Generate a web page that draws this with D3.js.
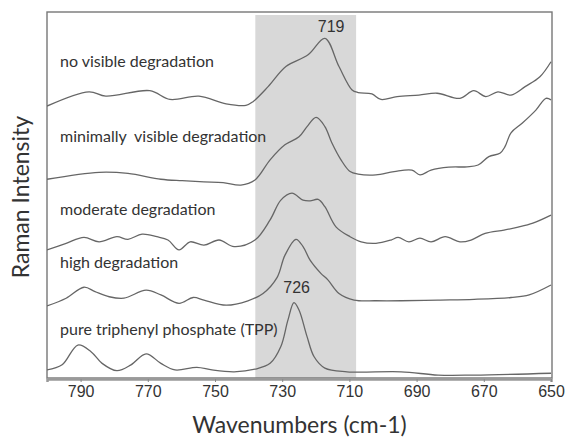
<!DOCTYPE html>
<html>
<head>
<meta charset="utf-8">
<script src="https://cdn.jsdelivr.net/npm/d3@7"></script>
<style>
  body { margin: 0; background: #fff; }
  text { fill: #333; }
  .lbl { font-family: Lato, "Open Sans", sans-serif; font-size: 16px; white-space: pre; }
  .tick text, .peak { font-family: "Liberation Sans", Arial, sans-serif; font-size: 16px; }
  .title { font-family: Lato, "Open Sans", sans-serif; font-size: 23px; }
</style>
</head>
<body>
<script>
// wavenumber (cm-1) / stacked intensity pairs
var noDeg = [
  [800, 74.3], [787.5, 78.2], [782.5, 77.0], [769.4, 78.5], [763.4, 76.1], [754.8, 77.0],
  [746.7, 74.9], [740.8, 74.5], [738.7, 75.5], [734.2, 79.6], [728.9, 85.1], [722.3, 88.3],
  [717.3, 92.8], [713.1, 85.1], [709.2, 78.7], [707.4, 78.0], [703.3, 77.6], [700.6, 76.1],
  [695.8, 76.9], [689.3, 77.3], [683.9, 77.8], [677.1, 76.4], [673.0, 78.5], [669.4, 76.9],
  [665.8, 78.2], [661.9, 77.3], [657.7, 79.6], [653.3, 82.3], [650, 86.4]
];
var minDeg = [
  [800, 54.3], [784.5, 56.2], [775.9, 55.9], [766.1, 54.3], [759.8, 53.9], [753.3, 53.6],
  [747.6, 53.4], [742.3, 52.7], [738.1, 54.1], [733.6, 59.6], [729.2, 63.7], [725.0, 65.9],
  [722.6, 68.7], [719.9, 71.2], [717.3, 68.7], [715.2, 64.2], [712.5, 59.6], [709.8, 56.4],
  [707.4, 55.7], [702.1, 55.5], [696.7, 56.4], [691.4, 56.8], [689.0, 55.5], [685.7, 56.8],
  [680.4, 57.6], [675.0, 57.7], [671.7, 58.2], [668.5, 60.5], [665.2, 61.4], [663.7, 63.2],
  [661.9, 67.0], [658.6, 69.6], [654.5, 73.2], [651.5, 76.4], [650, 76.0]
];
var modDeg = [
  [800, 35.0], [794.3, 36.8], [789.0, 38.4], [784.5, 37.2], [779.2, 38.6], [775.9, 37.9],
  [771.7, 39.3], [767.3, 38.6], [764.0, 37.7], [760.7, 35.0], [757.4, 37.2], [753.3, 36.3],
  [748.8, 37.7], [744.3, 35.9], [738.1, 37.7], [733.6, 43.2], [730.4, 48.6], [727.1, 50.5],
  [723.8, 48.6], [721.7, 48.4], [719.3, 48.8], [717.3, 46.8], [714.0, 41.3], [709.8, 38.6],
  [706.5, 37.2], [702.1, 36.8], [697.6, 37.7], [695.5, 38.4], [692.3, 37.2], [689.0, 38.2],
  [685.7, 37.2], [681.5, 38.6], [677.1, 37.2], [673.8, 37.7], [669.6, 39.5], [664.0, 40.4],
  [659.8, 41.2], [655.4, 42.3], [650, 44.5]
];
var highDeg = [
  [800, 19.7], [794.3, 21.8], [789.0, 24.8], [785.7, 23.6], [781.5, 22.2], [777.1, 21.8],
  [770.5, 24.0], [766.1, 22.7], [760.7, 20.4], [756.5, 22.0], [753.3, 21.3], [746.7, 19.9],
  [740.2, 21.1], [735.7, 23.1], [731.5, 27.5], [729.2, 33.5], [725.9, 37.9], [723.8, 35.9],
  [721.7, 32.2], [718.5, 28.6], [716.4, 26.8], [713.1, 23.1], [708.6, 21.3], [702.1, 21.1],
  [694.6, 21.1], [683.6, 21.3], [672.9, 21.5], [661.9, 22.0], [656.5, 22.7], [650, 25.4]
];
var tpp = [
  [800, 2.2], [795.5, 3.6], [790.8, 9.0], [786.9, 7.2], [783.6, 4.0], [779.2, 2.0],
  [775.0, 3.6], [770.5, 6.6], [766.1, 4.0], [761.9, 2.2], [755.4, 2.9], [750.9, 2.2],
  [744.3, 1.7], [738.1, 2.4], [733.6, 4.0], [730.4, 8.6], [728.3, 15.8], [726.5, 20.6],
  [725.0, 18.6], [722.6, 11.3], [720.5, 5.8], [717.3, 2.7], [710.7, 1.7], [694.6, 1.7],
  [683.6, 0.8], [672.9, 0.8], [650, 1.3]
];

var spectra = [noDeg, minDeg, modDeg, highDeg, tpp];
var spectrumLabels = ["no visible degradation", "minimally  visible degradation",
  "moderate degradation", "high degradation", "pure triphenyl phosphate (TPP)"];
var labelLevels = [85, 64.5, 44.5, 30, 11.7];
var peaks = [{ wn: 719, level: 94.4, text: "719", dx: 12 }, { wn: 726, level: 23.2, text: "726", dx: 1 }];
var band = [738, 708];
var xTicks = [790, 770, 750, 730, 710, 690, 670, 650];

var width = 573, height = 444;
var margin = { top: 12, right: 21, bottom: 66, left: 47 };

var x = d3.scaleLinear().domain([800, 650]).range([margin.left, width - margin.right - 1]);
var y = d3.scaleLinear().domain([0, 100]).range([height - margin.bottom, margin.top]);

var svg = d3.select("body").append("svg")
    .attr("width", width)
    .attr("height", height);

svg.append("defs").append("clipPath")
    .attr("id", "plotClip")
    .append("rect")
    .attr("x", margin.left)
    .attr("y", margin.top)
    .attr("width", width - margin.left - margin.right)
    .attr("height", height - margin.top - margin.bottom);

// grey highlight band
svg.append("rect")
    .attr("x", x(band[0]))
    .attr("y", margin.top + 3)
    .attr("width", x(band[1]) - x(band[0]))
    .attr("height", y(0) - margin.top - 3)
    .attr("fill", "#d8d8d8");

// frame
svg.append("rect")
    .attr("x", margin.left)
    .attr("y", margin.top)
    .attr("width", width - margin.left - margin.right)
    .attr("height", height - margin.top - margin.bottom)
    .attr("fill", "none")
    .attr("stroke", "#777")
    .attr("stroke-width", 1.4);

var line = d3.line()
    .x(function(d) { return x(d[0]); })
    .y(function(d) { return y(d[1]); })
    .curve(d3.curveCatmullRom.alpha(0.5));

svg.append("g")
    .attr("clip-path", "url(#plotClip)")
    .selectAll("path")
    .data(spectra)
    .enter().append("path")
    .attr("d", line)
    .attr("fill", "none")
    .attr("stroke", "#666")
    .attr("stroke-width", 1.3);

svg.selectAll("text.lbl")
    .data(spectrumLabels)
    .enter().append("text")
    .attr("class", "lbl")
    .attr("x", 60)
    .attr("y", function(d, i) { return y(labelLevels[i]); })
    .text(function(d) { return d; });

svg.selectAll("text.peak")
    .data(peaks)
    .enter().append("text")
    .attr("class", "peak")
    .attr("x", function(d) { return x(d.wn) + d.dx; })
    .attr("y", function(d) { return y(d.level); })
    .attr("text-anchor", "middle")
    .text(function(d) { return d.text; });

// x axis
var xAxis = d3.axisBottom(x)
    .tickValues(xTicks)
    .tickSize(3)
    .tickPadding(4);

var gx = svg.append("g")
    .attr("transform", "translate(0," + (y(0) + 1) + ")")
    .call(xAxis);
gx.select(".domain").attr("stroke", "#999").attr("stroke-width", 2.5);
gx.selectAll(".tick line").attr("stroke", "#888");
gx.selectAll(".tick text").attr("fill", "#333").attr("font-size", "16px")
    .attr("font-family", "Liberation Sans, Arial, sans-serif");

svg.append("text")
    .attr("class", "title")
    .attr("x", (margin.left + width - margin.right) / 2)
    .attr("y", 433)
    .attr("text-anchor", "middle")
    .text("Wavenumbers (cm-1)");

svg.append("text")
    .attr("class", "title")
    .attr("transform", "translate(29," + ((margin.top + y(0)) / 2 + 2) + ") rotate(-90)")
    .attr("text-anchor", "middle")
    .text("Raman Intensity");
</script>
</body>
</html>
